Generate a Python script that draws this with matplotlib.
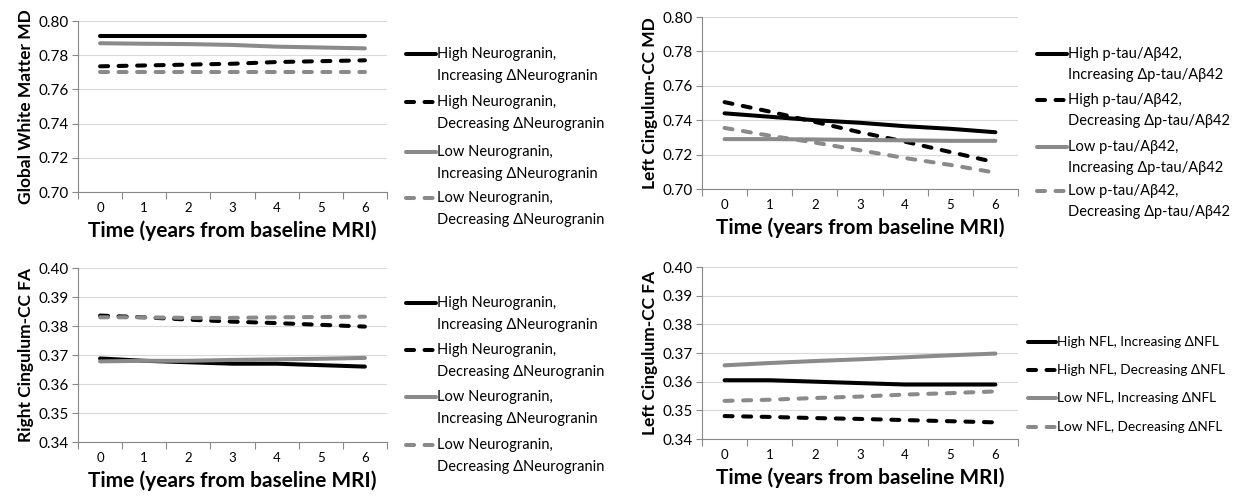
import numpy as np
import matplotlib.pyplot as plt
from matplotlib.lines import Line2D

plt.rcParams['font.family'] = ['Lato', 'Noto Sans', 'DejaVu Sans']

#========data========
years = [0, 1, 2, 3, 4, 5, 6]
year_labels = ['0', '1', '2', '3', '4', '5', '6']

# global white matter MD (neurogranin groups)
gwm_hi = [0.791, 0.791, 0.791, 0.791, 0.791, 0.791, 0.791]
gwm_hd = [0.7735, 0.774, 0.7745, 0.775, 0.776, 0.7765, 0.777]
gwm_li = [0.787, 0.7867, 0.7865, 0.786, 0.785, 0.7845, 0.784]
gwm_ld = [0.770, 0.770, 0.770, 0.770, 0.770, 0.770, 0.770]

# left cingulum-CC MD (p-tau/Ab42 groups)
lmd_hi = [0.744, 0.742, 0.740, 0.7385, 0.7365, 0.735, 0.733]
lmd_hd = [0.7505, 0.745, 0.739, 0.733, 0.7275, 0.7215, 0.7155]
lmd_li = [0.729, 0.729, 0.7288, 0.7285, 0.7283, 0.728, 0.728]
lmd_ld = [0.7355, 0.731, 0.727, 0.7225, 0.718, 0.714, 0.7095]

# right cingulum-CC FA (neurogranin groups)
rfa_hi = [0.3688, 0.368, 0.3675, 0.367, 0.367, 0.3665, 0.366]
rfa_hd = [0.3836, 0.383, 0.3822, 0.3815, 0.381, 0.3804, 0.3798]
rfa_li = [0.3678, 0.368, 0.368, 0.3683, 0.3685, 0.3687, 0.369]
rfa_ld = [0.383, 0.383, 0.3828, 0.3828, 0.383, 0.3831, 0.3832]

# left cingulum-CC FA (NFL groups)
lfa_hi = [0.3605, 0.3605, 0.360, 0.3595, 0.359, 0.359, 0.359]
lfa_hd = [0.348, 0.3477, 0.3473, 0.347, 0.3466, 0.3462, 0.3458]
lfa_li = [0.3657, 0.3665, 0.3672, 0.3678, 0.3685, 0.3692, 0.3698]
lfa_ld = [0.3533, 0.3537, 0.3543, 0.3548, 0.3555, 0.356, 0.3566]

ng_labels = ['High Neurogranin,\nIncreasing \u0394Neurogranin',
             'High Neurogranin,\nDecreasing \u0394Neurogranin',
             'Low Neurogranin,\nIncreasing \u0394Neurogranin',
             'Low Neurogranin,\nDecreasing \u0394Neurogranin']
pt_labels = ['High p-tau/A\u03b242,\nIncreasing \u0394p-tau/A\u03b242',
             'High p-tau/A\u03b242,\nDecreasing \u0394p-tau/A\u03b242',
             'Low p-tau/A\u03b242,\nIncreasing \u0394p-tau/A\u03b242',
             'Low p-tau/A\u03b242,\nDecreasing \u0394p-tau/A\u03b242']
nfl_labels = ['High NFL, Increasing \u0394NFL',
              'High NFL, Decreasing \u0394NFL',
              'Low NFL, Increasing \u0394NFL',
              'Low NFL, Decreasing \u0394NFL']

#========styles========
W, H = 1236, 498
BLACK = '#000000'
GREY = '#8a8a8a'
LW = 2.9
colors = [BLACK, BLACK, GREY, GREY]
dashed = [False, True, False, True]


def px(x, y):
    return x / W, 1 - y / H


def style(i):
    if dashed[i]:
        return dict(color=colors[i], lw=LW, linestyle=(0, (2, 2.6)),
                    dash_capstyle='round')
    return dict(color=colors[i], lw=LW, solid_capstyle='round')


def make_ax(left, top, right, bottom, series, ylims, yticks, ylabel):
    ax = fig.add_axes([left / W, 1 - bottom / H, (right - left) / W, (bottom - top) / H])
    for i, s in enumerate(series):
        ax.plot(years, s, **style(i))
    ax.set_xlim(-0.5, 6.5)
    ax.set_ylim(*ylims)
    ax.set_yticks(yticks)
    ax.set_yticklabels(['%.2f' % t for t in yticks], fontsize=11)
    ax.set_xticks(years)
    ax.set_xticklabels(year_labels, fontsize=9.5)
    ax.set_xticks(np.arange(-0.5, 7, 1), minor=True)
    ax.tick_params(axis='x', which='major', length=0, pad=7)
    ax.tick_params(axis='x', which='minor', length=5, color='#888888', width=0.8)
    ax.tick_params(axis='y', length=4, color='#888888', width=0.8, pad=3)
    ax.grid(axis='y', color='#d9d9d9', lw=0.8)
    ax.set_axisbelow(True)
    for s in ['top', 'right']:
        ax.spines[s].set_visible(False)
    for s in ['left', 'bottom']:
        ax.spines[s].set_color('#888888')
        ax.spines[s].set_linewidth(0.8)
    ax.set_xlabel('Time (years from baseline MRI)', fontsize=15, fontweight='bold', labelpad=5)
    ax.set_ylabel(ylabel, fontsize=12.5, fontweight='bold', labelpad=3)
    return ax


def legend(x0, x1, rows, labels, gap, size=10.5):
    for i, (y, lab) in enumerate(zip(rows, labels)):
        a, b = px(x0, y)
        c, _ = px(x1, y)
        fig.add_artist(Line2D([a, c], [b, b], transform=fig.transFigure, **style(i)))
        for j, part in enumerate(lab.split('\n')):
            tx, ty = px(x1 + 1, y + j * gap)
            fig.text(tx, ty, part, fontsize=size, va='center', ha='left')


fig = plt.figure(figsize=(W / 100, H / 100), dpi=100)

make_ax(78, 21, 387, 192, [gwm_hi, gwm_hd, gwm_li, gwm_ld],
        (0.70, 0.80), [0.70, 0.72, 0.74, 0.76, 0.78, 0.80], 'Global White Matter MD')
make_ax(702, 17, 1018, 189, [lmd_hi, lmd_hd, lmd_li, lmd_ld],
        (0.70, 0.80), [0.70, 0.72, 0.74, 0.76, 0.78, 0.80], 'Left Cingulum-CC MD')
make_ax(78, 268, 387, 442, [rfa_hi, rfa_hd, rfa_li, rfa_ld],
        (0.34, 0.40), [0.34, 0.35, 0.36, 0.37, 0.38, 0.39, 0.40], 'Right Cingulum-CC FA')
make_ax(702, 267, 1018, 439, [lfa_hi, lfa_hd, lfa_li, lfa_ld],
        (0.34, 0.40), [0.34, 0.35, 0.36, 0.37, 0.38, 0.39, 0.40], 'Left Cingulum-CC FA')

legend(406, 436, [54, 102, 152, 198], ng_labels, 22)
legend(1037, 1067, [54, 100, 147, 191], pt_labels, 21)
legend(406, 436, [303, 350, 397, 445], ng_labels, 22)
legend(1028, 1056, [342, 370, 398, 427], nfl_labels, 0, size=9.8)

plt.savefig('out.png', dpi=100)
